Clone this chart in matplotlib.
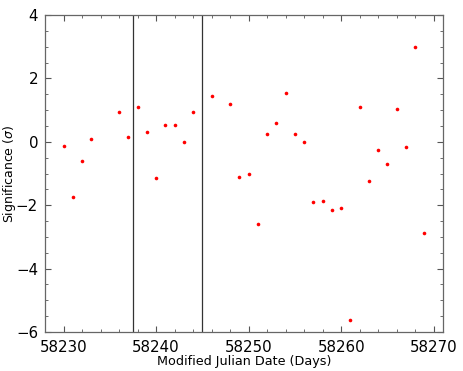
import numpy as np
import matplotlib
matplotlib.use('Agg')
import matplotlib.pyplot as plt
from matplotlib.ticker import MultipleLocator

mjd = [58230, 58231, 58232, 58233, 58236, 58237, 58238, 58239, 58240, 58241,
       58242, 58243, 58244, 58246, 58248, 58249, 58250, 58251, 58252, 58253,
       58254, 58255, 58256, 58257, 58258, 58259, 58260, 58261, 58262, 58263,
       58264, 58265, 58266, 58267, 58268, 58269]
sig = [-0.14, -1.74, -0.61, 0.10, 0.94, 0.16, 1.09, 0.31, -1.14, 0.53,
       0.54, 0.00, 0.95, 1.44, 1.20, -1.10, -1.03, -2.60, 0.24, 0.58,
       1.53, 0.26, -0.02, -1.90, -1.87, -2.14, -2.10, -5.62, 1.11, -1.24,
       -0.27, -0.69, 1.03, -0.16, 3.00, -2.89]

# Grenzen der Zeitfenster
grenzen = [58237.5, 58245.0]

fig = plt.figure(figsize=(4.63, 3.71), dpi=100)
ax = fig.add_axes([45/463, 1 - 332/371, (443-45)/463, (332-15)/371])

ax.plot(mjd, sig, 'o', color='red', ms=2.6, mec='none')
for g in grenzen:
    ax.axvline(g, color='#333333', lw=0.9)

ax.set_xlim(58228.0, 58271.0)
ax.set_ylim(-6, 4)
ax.xaxis.set_major_locator(MultipleLocator(10))
ax.xaxis.set_minor_locator(MultipleLocator(2))
ax.yaxis.set_major_locator(MultipleLocator(2))
ax.yaxis.set_minor_locator(MultipleLocator(0.5))
ax.tick_params(which='both', direction='in', top=True, right=True, colors='#555555',
               labelcolor='black', labelsize=10.8)
ax.tick_params(which='major', length=4)
ax.tick_params(which='minor', length=2)
ax.tick_params(axis='x', pad=6)
ax.tick_params(axis='y', pad=5)
for s in ax.spines.values():
    s.set_color('#666666')
    s.set_linewidth(0.9)

ax.set_xlabel('Modified Julian Date (Days)', fontsize=9.2, labelpad=0)
ax.set_ylabel(r'Significance ($\sigma$)', fontsize=9)
ax.yaxis.set_label_coords(-0.068, 0.5)

fig.savefig('out.png', dpi=100)
